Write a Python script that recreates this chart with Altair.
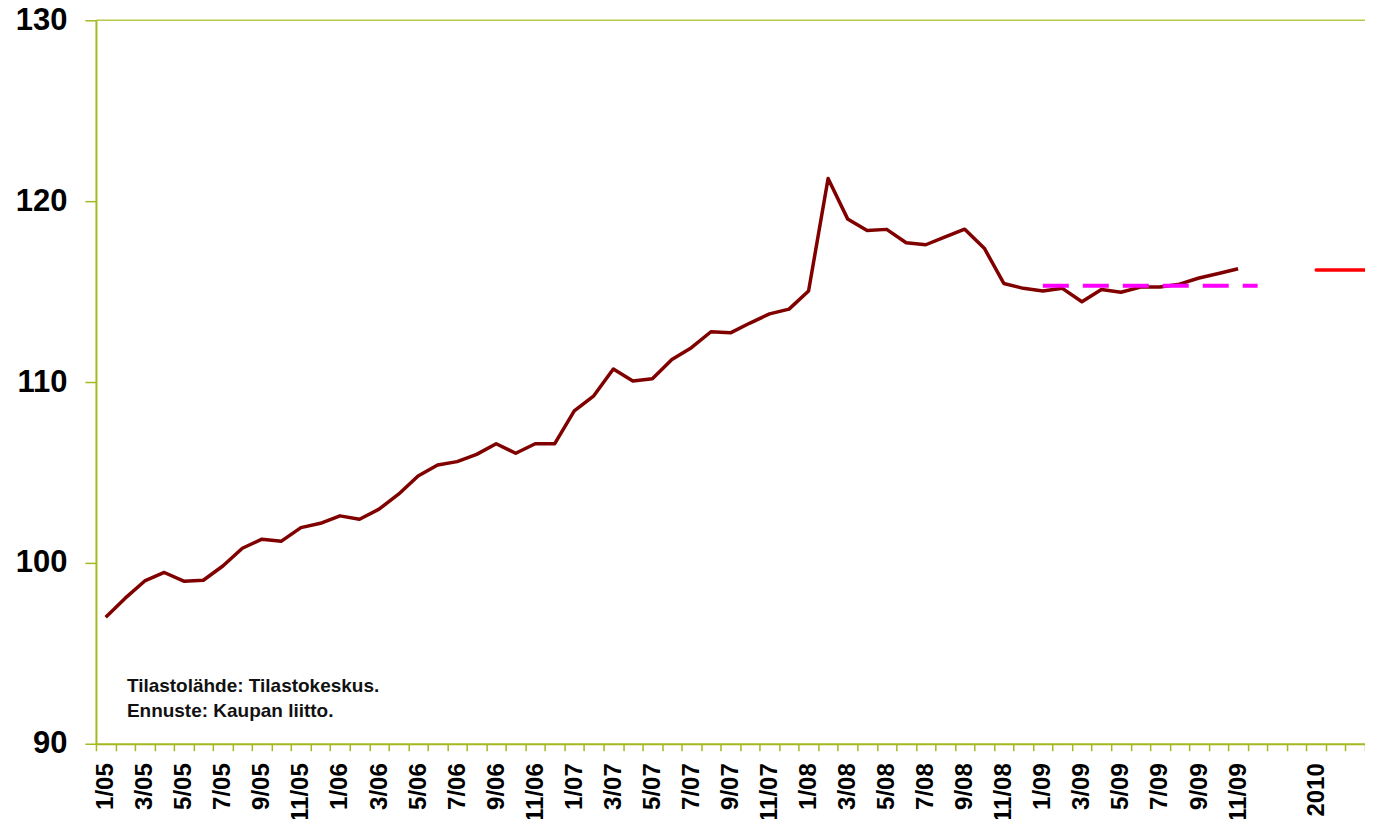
import altair as alt
import pandas as pd

# ---- data ----
years = ["05", "06", "07", "08", "09"]
months = [f"{m}/{y}" for y in years for m in range(1, 13)]
extra = ["e1", "e2", "2010", "e3", "e4"]
categories = months + extra
tick_labels = [c if ((c in months and int(c.split("/")[0]) % 2 == 1) or c == "2010") else "" for c in categories]
shown_labels = [t for t in tick_labels if t]

index_values = [
    97.0, 98.05, 99.0, 99.47, 98.99, 99.04, 99.83, 100.81, 101.31, 101.2, 101.95, 102.19,
    102.6, 102.41, 102.97, 103.8, 104.8, 105.41, 105.6, 106.0, 106.59, 106.06, 106.59, 106.59,
    108.4, 109.24, 110.72, 110.06, 110.18, 111.25, 111.9, 112.78, 112.72, 113.26, 113.77, 114.03,
    115.03, 121.25, 119.02, 118.38, 118.44, 117.7, 117.59, 118.03, 118.45, 117.4, 115.45, 115.18,
    115.03, 115.18, 114.44, 115.12, 114.96, 115.25, 115.25, 115.41, 115.75, 116.0, 116.26,
]
forecast_2009 = {"start": "1/09", "end": "12/09", "value": 115.32}
forecast_2010 = {"start": "2010", "end": "e4", "value": 116.19}
notes = ["Tilastolähde: Tilastokeskus.", "Ennuste: Kaupan liitto."]

OLIVE = "#A6B820"
FONT = "Liberation Sans"

main_df = pd.DataFrame({"cat": months[: len(index_values)], "value": index_values})
f09_df = pd.DataFrame([forecast_2009])
f10_df = pd.DataFrame([forecast_2010])
top_df = pd.DataFrame({"v": [130]})

label_expr = "indexof(" + str(shown_labels) + ", datum.value) >= 0 ? datum.value : ''"

x_scale = alt.Scale(type="band", domain=categories, paddingInner=0, paddingOuter=0)
y_scale = alt.Scale(domain=[90, 130], nice=False, zero=False)

x_axis = alt.Axis(
    title=None, labelAngle=-90, labelFontSize=24, labelFontWeight="bold", labelFont=FONT,
    labelColor="black", domainColor=OLIVE, domainWidth=2, tickColor=OLIVE, tickSize=7,
    tickWidth=1.5, tickBand="extent", labelPadding=12, grid=False, labelExpr=label_expr,
    labelOverlap=False, labelBound=False,
)
y_axis = alt.Axis(
    title=None, values=[90, 100, 110, 120, 130], labelFontSize=31, labelFontWeight="bold",
    labelFont=FONT, labelColor="black", domainColor=OLIVE, domainWidth=2, tickColor=OLIVE,
    tickSize=11, tickWidth=1.5, labelPadding=18, grid=False,
)

main = alt.Chart(main_df).mark_line(color="#800000", strokeWidth=3.5, strokeJoin="round").encode(
    x=alt.X("cat:N", scale=x_scale, axis=x_axis, sort=categories, bandPosition=0.5),
    y=alt.Y("value:Q", scale=y_scale, axis=y_axis),
)

top = alt.Chart(top_df).mark_rule(color="#B8C84A", strokeWidth=1.5).encode(y=alt.Y("v:Q"))

f09 = alt.Chart(f09_df).mark_rule(color="#FF00FF", strokeWidth=4, strokeDash=[26, 14], strokeCap="butt").encode(
    x=alt.X("start:N", bandPosition=0.5),
    x2=alt.X2("end:N", bandPosition=0.5),
    y=alt.Y("value:Q"),
)

f10 = alt.Chart(f10_df).mark_rule(color="#FF0000", strokeWidth=3.5, strokeCap="round").encode(
    x=alt.X("start:N", bandPosition=0.5),
    x2=alt.X2("end:N", bandPosition=1),
    y=alt.Y("value:Q"),
)

note = alt.Chart(top_df).mark_text(
    align="left", baseline="alphabetic", font=FONT, fontSize=19, fontWeight="bold",
    color="#111111", lineHeight=25,
).encode(x=alt.value(31), y=alt.value(672), text=alt.value(notes))

chart = alt.layer(top, main, f09, f10, note).properties(
    width=1270, height=724,
    autosize=alt.AutoSizeParams(type="none"),
    padding={"left": 88, "top": 12, "right": 0, "bottom": 75},
).configure_view(stroke=None)

chart.save("out.html", embed_options={"renderer": "svg", "actions": False})
